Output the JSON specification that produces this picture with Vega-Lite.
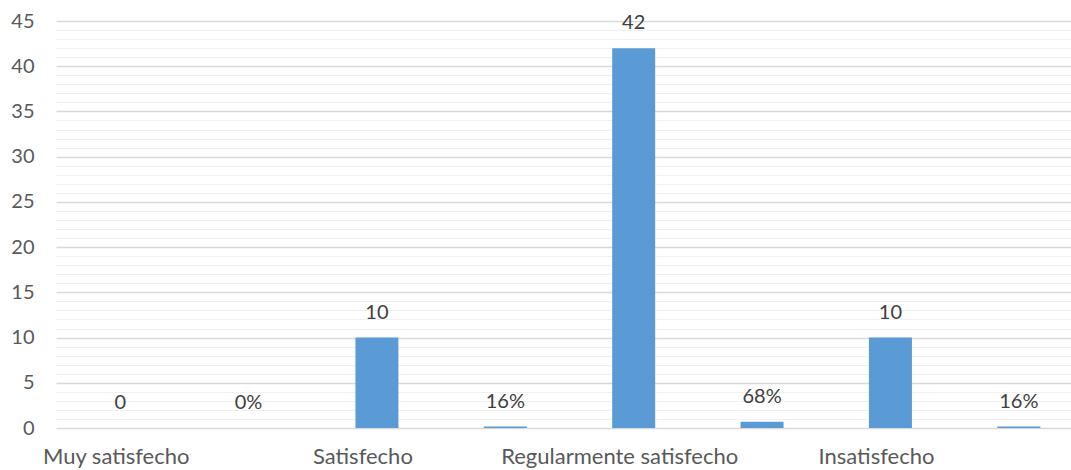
{
  "$schema": "https://vega.github.io/schema/vega-lite/v6.json",
  "autosize": {"type": "none"},
  "width": 1015,
  "height": 407,
  "padding": {"left": 56, "top": 21, "right": 0, "bottom": 42},
  "background": "white",
  "config": {
    "view": {"stroke": null},
    "font": "Lato",
    "text": {"font": "Lato"}
  },
  "data": {
    "values": [
      {"key": "Muy satisfecho|n", "valor": 0, "etiqueta": "0"},
      {"key": "Muy satisfecho|p", "valor": 0, "etiqueta": "0%"},
      {"key": "Satisfecho|n", "valor": 10, "etiqueta": "10"},
      {"key": "Satisfecho|p", "valor": 0.16, "etiqueta": "16%"},
      {"key": "Regularmente satisfecho|n", "valor": 42, "etiqueta": "42"},
      {"key": "Regularmente satisfecho|p", "valor": 0.68, "etiqueta": "68%"},
      {"key": "Insatisfecho|n", "valor": 10, "etiqueta": "10"},
      {"key": "Insatisfecho|p", "valor": 0.16, "etiqueta": "16%"}
    ]
  },
  "encoding": {
    "x": {
      "field": "key",
      "type": "nominal",
      "sort": null,
      "scale": {"range": [0, 1027], "paddingInner": 0.665, "paddingOuter": 0.3325},
      "axis": {
        "title": null,
        "domain": false,
        "ticks": false,
        "labelAngle": 0,
        "labelFont": "Lato",
        "labelFontSize": 22,
        "labelColor": "#595959",
        "labelPadding": 18,
        "labelOverlap": false,
        "labelLimit": 400,
        "labelOffset": {"condition": {"test": "datum.value == 'Muy satisfecho|n'", "value": -4}, "value": -14},
        "labelExpr": "split(datum.label, '|')[1] == 'n' ? split(datum.label, '|')[0] : ''"
      }
    },
    "y": {
      "field": "valor",
      "type": "quantitative",
      "scale": {"domain": [0, 45], "nice": false},
      "axis": {
        "title": null,
        "domain": false,
        "ticks": false,
        "values": [0,1,2,3,4,5,6,7,8,9,10,11,12,13,14,15,16,17,18,19,20,21,22,23,24,25,26,27,28,29,30,31,32,33,34,35,36,37,38,39,40,41,42,43,44,45],
        "labelExpr": "datum.value % 5 === 0 ? datum.label : ''",
        "labelOverlap": false,
        "labelFont": "Lato",
        "labelFontSize": 20,
        "labelColor": "#595959",
        "labelPadding": 22,
        "gridColor": {"condition": {"test": "datum.value % 5 === 0", "value": "#d9d9d9"}, "value": "#f0f0f0"},
        "gridWidth": {"condition": {"test": "datum.value % 5 === 0", "value": 1.5}, "value": 1.2}
      }
    }
  },
  "layer": [
    {"mark": {"type": "bar", "color": "#5b9bd5"}},
    {
      "mark": {"type": "text", "baseline": "alphabetic", "dy": -19, "fontSize": 20, "color": "#404040", "font": "Lato"},
      "encoding": {"text": {"field": "etiqueta", "type": "nominal"}}
    }
  ]
}
